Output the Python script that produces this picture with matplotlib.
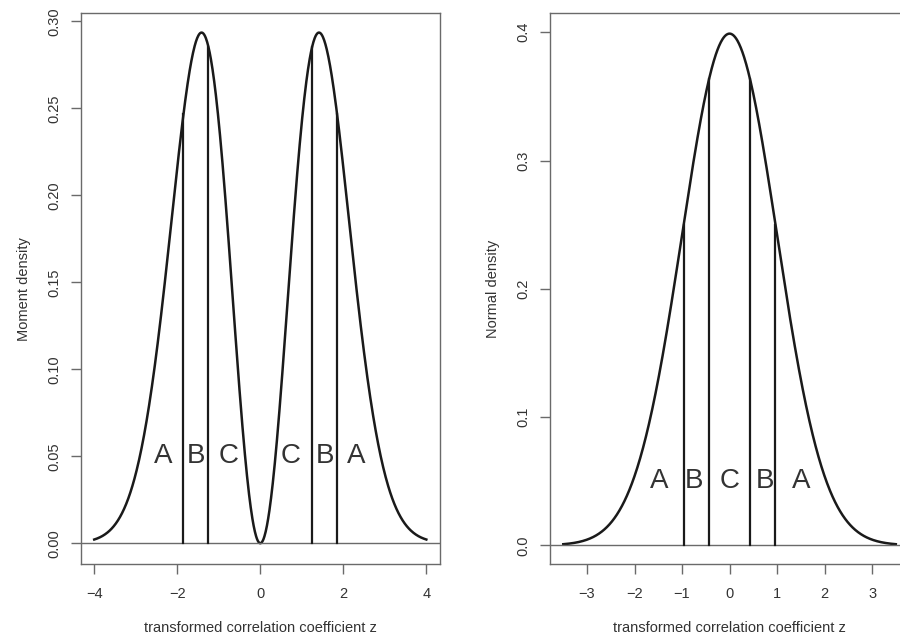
import numpy as np
import matplotlib
matplotlib.use("Agg")
import matplotlib.pyplot as plt

plt.rcParams['font.family'] = ['Liberation Sans', 'DejaVu Sans']

# ---- data ----
# left panel: moment density, z in [-4, 4]
moment_range = [-4.0, 4.0]
moment_bounds = [-1.85, -1.25, 1.25, 1.85]
moment_labels = ["A", "B", "C", "C", "B", "A"]
moment_label_x = [-2.33, -1.55, -0.77, 0.72, 1.55, 2.3]
moment_label_y = 0.05
moment_yticks = [0.00, 0.05, 0.10, 0.15, 0.20, 0.25, 0.30]
moment_xticks = [-4, -2, 0, 2, 4]

# right panel: normal density, z in [-3.5, 3.5]
normal_range = [-3.5, 3.5]
normal_bounds = [-0.967, -0.431, 0.431, 0.967]
normal_labels = ["A", "B", "C", "B", "A"]
normal_label_x = [-1.48, -0.74, 0.0, 0.75, 1.5]
normal_label_y = 0.05
normal_yticks = [0.0, 0.1, 0.2, 0.3, 0.4]
normal_xticks = [-3, -2, -1, 0, 1, 2, 3]

xlabel = "transformed correlation coefficient z"


def normal_pdf(z):
    return np.exp(-0.5 * z ** 2) / np.sqrt(2 * np.pi)


def moment_pdf(z):
    return z ** 2 * normal_pdf(z)


fig = plt.figure(figsize=(9, 6.39), dpi=100)

LINE = "#1a1a1a"
BOX = "#6a6a6a"
TXT = "#333333"


def style(ax, yticks, yfmt, xticks):
    for s in ax.spines.values():
        s.set_color(BOX)
        s.set_linewidth(1.0)
    ax.set_yticks(yticks)
    ax.set_yticklabels([yfmt.format(v) for v in yticks], rotation=90,
                       va="center", fontsize=10.5, color=TXT)
    ax.set_xticks(xticks)
    ax.set_xticklabels([("\u2212" if v < 0 else "") + str(abs(v)) for v in xticks],
                       fontsize=10.5, color=TXT)
    ax.tick_params(axis="x", length=7, width=1.0, color=BOX, pad=9)
    ax.tick_params(axis="y", length=7, width=1.0, color=BOX, pad=7)


# left
ax1 = fig.add_axes([0.0897, 0.1169, 0.399, 0.8623])
z = np.linspace(moment_range[0], moment_range[1], 801)
ax1.plot(z, moment_pdf(z), color=LINE, lw=1.8)
ax1.axhline(0, color=BOX, lw=1.0)
for b in moment_bounds:
    ax1.plot([b, b], [0, moment_pdf(b)], color=LINE, lw=1.6)
for lab, x in zip(moment_labels, moment_label_x):
    ax1.text(x, moment_label_y, lab, ha="center", va="center", fontsize=20, color=TXT)
ax1.set_xlim(-4.325, 4.325)
ax1.set_ylim(-0.0121, 0.3046)
style(ax1, moment_yticks, "{:.2f}", moment_xticks)
ax1.set_ylabel("Moment density", fontsize=10.5, color=TXT, labelpad=12)
ax1.set_xlabel(xlabel, fontsize=10.5, color=TXT, labelpad=14.5)

# right
ax2 = fig.add_axes([0.6111, 0.1169, 0.399, 0.8623])
z = np.linspace(normal_range[0], normal_range[1], 801)
ax2.plot(z, normal_pdf(z), color=LINE, lw=1.8)
ax2.axhline(0, color=BOX, lw=1.0)
for b in normal_bounds:
    ax2.plot([b, b], [0, normal_pdf(b)], color=LINE, lw=1.6)
for lab, x in zip(normal_labels, normal_label_x):
    ax2.text(x, normal_label_y, lab, ha="center", va="center", fontsize=20, color=TXT)
ax2.set_xlim(-3.78, 3.78)
ax2.set_ylim(-0.0148, 0.4148)
style(ax2, normal_yticks, "{:.1f}", normal_xticks)
ax2.set_ylabel("Normal density", fontsize=10.5, color=TXT, labelpad=12)
ax2.set_xlabel(xlabel, fontsize=10.5, color=TXT, labelpad=14.5)

fig.savefig("out.png", dpi=100)
